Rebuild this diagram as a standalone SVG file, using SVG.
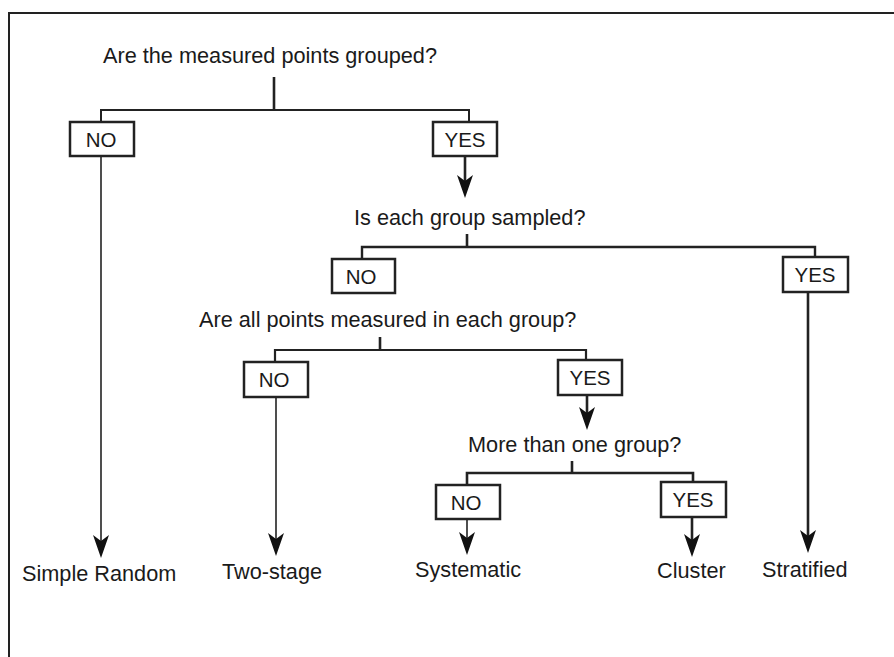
<svg xmlns="http://www.w3.org/2000/svg" width="894" height="657" viewBox="0 0 894 657">
<style>
.q{font-family:"Liberation Sans",Arial,sans-serif;font-size:21.7px;fill:#1a1a1a}
.b{font-family:"Liberation Sans",Arial,sans-serif;font-size:20.5px;fill:#1a1a1a;text-anchor:middle}
.box{fill:#fff;stroke:#222;stroke-width:2.5}
.thin{fill:none;stroke:#222;stroke-width:1.6}
.thick{fill:none;stroke:#222;stroke-width:2.6}
</style>
<defs>
<marker id="ah" markerUnits="userSpaceOnUse" viewBox="-25 -9 26 18" refX="-6" refY="0" markerWidth="26" markerHeight="18" orient="auto">
<path d="M0,0 L-23,-8 L-17,0 L-23,8 Z" fill="#111"/>
</marker>
</defs>
<rect width="894" height="657" fill="#fff"/>
<path d="M9,657 L9,13 L894,13" fill="none" stroke="#222" stroke-width="2"/>
<g id="connectors">
<path class="thick" d="M274,77 L274,110"/>
<path class="thin" d="M101,122 L101,110 L469,110 L469,122" style="stroke-width:2"/>
<path class="thin" d="M101,156 L101,552" marker-end="url(#ah)"/>
<path class="thick" d="M465,156 L465,192" marker-end="url(#ah)"/>
<path class="thick" d="M467,234 L467,247"/>
<path class="thin" d="M362,259 L362,247 L815,247 L815,257" style="stroke-width:2.4"/>
<path class="thick" d="M808,292 L808,547" marker-end="url(#ah)"/>
<path class="thick" d="M380,337 L380,350"/>
<path class="thin" d="M275,362 L275,350 L586,350 L586,360" style="stroke-width:2.2"/>
<path class="thin" d="M276,397 L276,550" marker-end="url(#ah)"/>
<path class="thick" d="M587,395 L587,424" marker-end="url(#ah)"/>
<path class="thick" d="M572,461 L572,473"/>
<path class="thin" d="M467,485 L467,473 L693,473 L693,482" style="stroke-width:2.6"/>
<path class="thin" d="M467,519 L467,549" marker-end="url(#ah)"/>
<path class="thick" d="M692,517 L692,551" marker-end="url(#ah)"/>
</g>
<g id="q1"><text class="q" x="103" y="63">Are the measured points grouped?</text></g>
<g id="no1"><rect class="box" x="70" y="122" width="64" height="34"/><text class="b" x="101" y="146.5">NO</text></g>
<g id="yes1"><rect class="box" x="433" y="122" width="64" height="34"/><text class="b" x="465" y="146.5">YES</text></g>
<g id="q2"><text class="q" x="354" y="225">Is each group sampled?</text></g>
<g id="no2"><rect class="box" x="332" y="259" width="63" height="34"/><text class="b" x="361" y="283.5">NO</text></g>
<g id="yes2"><rect class="box" x="783" y="257" width="65" height="35"/><text class="b" x="815" y="281.5">YES</text></g>
<g id="q3"><text class="q" x="199" y="327">Are all points measured in each group?</text></g>
<g id="no3"><rect class="box" x="244" y="362" width="64" height="35"/><text class="b" x="274" y="386.5">NO</text></g>
<g id="yes3"><rect class="box" x="558" y="360" width="64" height="35"/><text class="b" x="590" y="384.5">YES</text></g>
<g id="q4"><text class="q" x="468" y="452">More than one group?</text></g>
<g id="no4"><rect class="box" x="436" y="485" width="64" height="34"/><text class="b" x="466" y="509.5">NO</text></g>
<g id="yes4"><rect class="box" x="661" y="482" width="65" height="35"/><text class="b" x="693" y="506.5">YES</text></g>
<g id="simple"><text class="q" x="22" y="581">Simple Random</text></g>
<g id="twostage"><text class="q" x="222" y="579">Two-stage</text></g>
<g id="systematic"><text class="q" x="415" y="577">Systematic</text></g>
<g id="cluster"><text class="q" x="657" y="578">Cluster</text></g>
<g id="stratified"><text class="q" x="762" y="577">Stratified</text></g>
</svg>
